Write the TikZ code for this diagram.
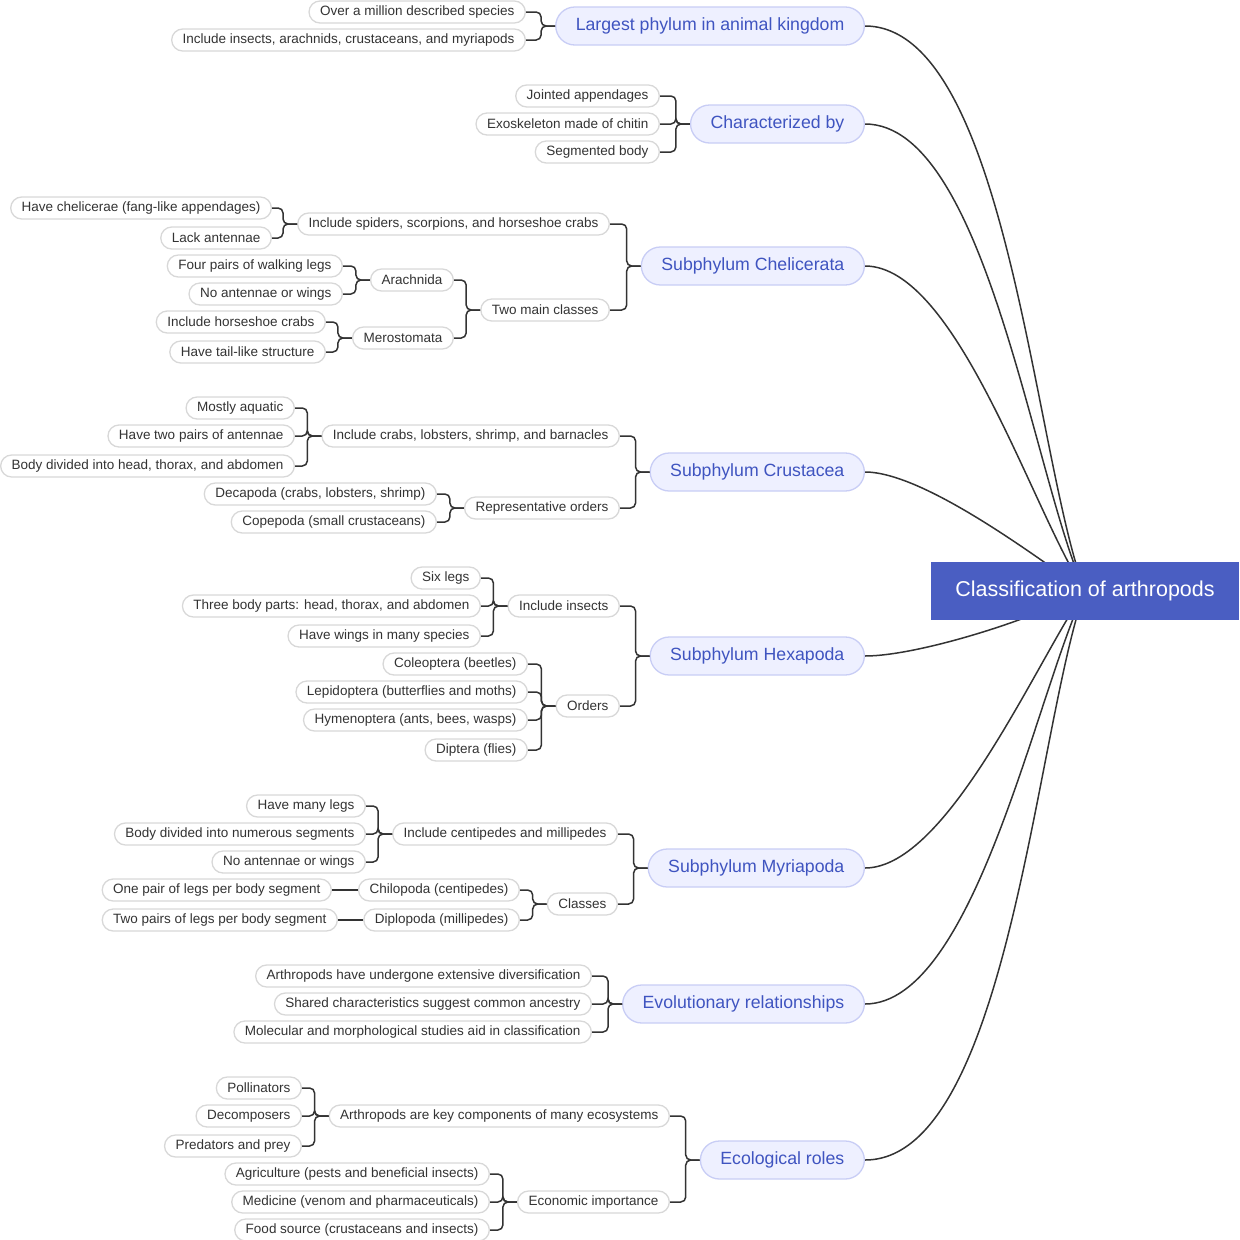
\documentclass[tikz,border=0pt]{standalone}
\usepackage{fontspec}
\setmainfont{Liberation Sans}
\usetikzlibrary{backgrounds}
\definecolor{leafb}{HTML}{D8D8D8}
\definecolor{textc}{HTML}{333333}
\definecolor{lvf}{HTML}{EEF0FF}
\definecolor{lvb}{HTML}{C8CDF5}
\definecolor{lvt}{HTML}{3F54C0}
\definecolor{rootf}{HTML}{4A5EC2}
\definecolor{conc}{HTML}{333333}
\tikzset{
 leaf/.style={draw=leafb,fill=white,rounded corners=11,minimum height=22,inner xsep=11,inner ysep=0,font=\fontsize{13.5}{13.5}\selectfont,text=textc,anchor=east,line width=1.3},
 lvl/.style={draw=lvb,fill=lvf,rounded corners=19,minimum height=38,inner xsep=20,inner ysep=0,font=\fontsize{17.7}{18}\selectfont,text=lvt,anchor=east,line width=1.3},
 root/.style={fill=rootf,minimum width=308,minimum height=58,font=\fontsize{21.5}{21.5}\selectfont,text=white},
 conn/.style={draw=conc,line width=1.5,rounded corners=5},
 rconn/.style={draw=conc,line width=1.5}
}
\newcommand\br[2]{\draw[conn] (#1.west) -- ++(-14,0) |- (#2.east);}
\begin{document}
\begin{tikzpicture}[x=1pt,y=-1pt]
\useasboundingbox (0,0) rectangle (1240,1240);
\node[root] (R) at (1085,591) {Classification of arthropods};
\node[lvl] (A) at (865,26) {Largest phylum in animal kingdom};
\node[lvl] (B) at (865,124) {Characterized by};
\node[lvl] (C) at (865,266) {Subphylum Chelicerata};
\node[lvl] (D) at (865,472) {Subphylum Crustacea};
\node[lvl] (E) at (865,656) {Subphylum Hexapoda};
\node[lvl] (F) at (865,868) {Subphylum Myriapoda};
\node[lvl] (G) at (865,1004) {Evolutionary relationships};
\node[lvl] (H) at (865,1160) {Ecological roles};
\begin{scope}[on background layer]
\draw[rconn] (A.east) to[out=0,in=111,looseness=0.6] (R.center);
\draw[rconn] (B.east) to[out=0,in=115,looseness=0.6] (R.center);
\draw[rconn] (C.east) to[out=0,in=124,looseness=0.6] (R.center);
\draw[rconn] (D.east) to[out=0,in=145,looseness=0.6] (R.center);
\draw[rconn] (E.east) to[out=0,in=210,looseness=0.6] (R.center);
\draw[rconn] (F.east) to[out=0,in=235,looseness=0.6] (R.center);
\draw[rconn] (G.east) to[out=0,in=244,looseness=0.6] (R.center);
\draw[rconn] (H.east) to[out=0,in=250,looseness=0.6] (R.center);
\end{scope}
% A
\node[leaf] (a1) at (526,12) {Over a million described species};
\node[leaf] (a2) at (526,40) {Include insects, arachnids, crustaceans, and myriapods};
\br{A}{a1}\br{A}{a2}
% B
\node[leaf] (b1) at (660,96) {Jointed appendages};
\node[leaf] (b2) at (660,124) {Exoskeleton made of chitin};
\node[leaf] (b3) at (660,152) {Segmented body};
\br{B}{b1}\br{B}{b2}\br{B}{b3}
% C
\node[leaf] (c1) at (610,224) {Include spiders, scorpions, and horseshoe crabs};
\node[leaf] (c2) at (610,310) {Two main classes};
\br{C}{c1}\br{C}{c2}
\node[leaf] (c11) at (272,208) {Have chelicerae (fang-like appendages)};
\node[leaf] (c12) at (272,238) {Lack antennae};
\br{c1}{c11}\br{c1}{c12}
\node[leaf] (c21) at (454,280) {Arachnida};
\node[leaf] (c22) at (454,338) {Merostomata};
\br{c2}{c21}\br{c2}{c22}
\node[leaf] (c211) at (343,266) {Four pairs of walking legs};
\node[leaf] (c212) at (343,294) {No antennae or wings};
\br{c21}{c211}\br{c21}{c212}
\node[leaf] (c221) at (326,322) {Include horseshoe crabs};
\node[leaf] (c222) at (326,352) {Have tail-like structure};
\br{c22}{c221}\br{c22}{c222}
% D
\node[leaf] (d1) at (620,436) {Include crabs, lobsters, shrimp, and barnacles};
\node[leaf] (d2) at (620,508) {Representative orders};
\br{D}{d1}\br{D}{d2}
\node[leaf] (d11) at (295,408) {Mostly aquatic};
\node[leaf] (d12) at (295,436) {Have two pairs of antennae};
\node[leaf] (d13) at (295,466) {Body divided into head, thorax, and abdomen};
\br{d1}{d11}\br{d1}{d12}\br{d1}{d13}
\node[leaf] (d21) at (437,494) {Decapoda (crabs, lobsters, shrimp)};
\node[leaf] (d22) at (437,522) {Copepoda (small crustaceans)};
\br{d2}{d21}\br{d2}{d22}
% E
\node[leaf] (e1) at (620,606) {Include insects};
\node[leaf] (e2) at (620,706) {Orders};
\br{E}{e1}\br{E}{e2}
\node[leaf] (e11) at (481,578) {Six legs};
\node[leaf] (e12) at (481,606) {Three body parts: head, thorax, and abdomen};
\node[leaf] (e13) at (481,636) {Have wings in many species};
\br{e1}{e11}\br{e1}{e12}\br{e1}{e13}
\node[leaf] (e21) at (528,664) {Coleoptera (beetles)};
\node[leaf] (e22) at (528,692) {Lepidoptera (butterflies and moths)};
\node[leaf] (e23) at (528,720) {Hymenoptera (ants, bees, wasps)};
\node[leaf] (e24) at (528,750) {Diptera (flies)};
\br{e2}{e21}\br{e2}{e22}\br{e2}{e23}\br{e2}{e24}
% F
\node[leaf] (f1) at (618,834) {Include centipedes and millipedes};
\node[leaf] (f2) at (618,904) {Classes};
\br{F}{f1}\br{F}{f2}
\node[leaf] (f11) at (366,806) {Have many legs};
\node[leaf] (f12) at (366,834) {Body divided into numerous segments};
\node[leaf] (f13) at (366,862) {No antennae or wings};
\br{f1}{f11}\br{f1}{f12}\br{f1}{f13}
\node[leaf] (f21) at (520,890) {Chilopoda (centipedes)};
\node[leaf] (f22) at (520,920) {Diplopoda (millipedes)};
\br{f2}{f21}\br{f2}{f22}
\node[leaf] (f211) at (332,890) {One pair of legs per body segment};
\node[leaf] (f221) at (338,920) {Two pairs of legs per body segment};
\draw[conn] (f21.west) -- (f211.east);
\draw[conn] (f22.west) -- (f221.east);
% G
\node[leaf] (g1) at (592,976) {Arthropods have undergone extensive diversification};
\node[leaf] (g2) at (592,1004) {Shared characteristics suggest common ancestry};
\node[leaf] (g3) at (592,1032) {Molecular and morphological studies aid in classification};
\br{G}{g1}\br{G}{g2}\br{G}{g3}
% H
\node[leaf] (h1) at (670,1116) {Arthropods are key components of many ecosystems};
\node[leaf] (h2) at (670,1202) {Economic importance};
\br{H}{h1}\br{H}{h2}
\node[leaf] (h11) at (302,1088) {Pollinators};
\node[leaf] (h12) at (302,1116) {Decomposers};
\node[leaf] (h13) at (302,1146) {Predators and prey};
\br{h1}{h11}\br{h1}{h12}\br{h1}{h13}
\node[leaf] (h21) at (490,1174) {Agriculture (pests and beneficial insects)};
\node[leaf] (h22) at (490,1202) {Medicine (venom and pharmaceuticals)};
\node[leaf] (h23) at (490,1230) {Food source (crustaceans and insects)};
\br{h2}{h21}\br{h2}{h22}\br{h2}{h23}
\end{tikzpicture}
\end{document}
